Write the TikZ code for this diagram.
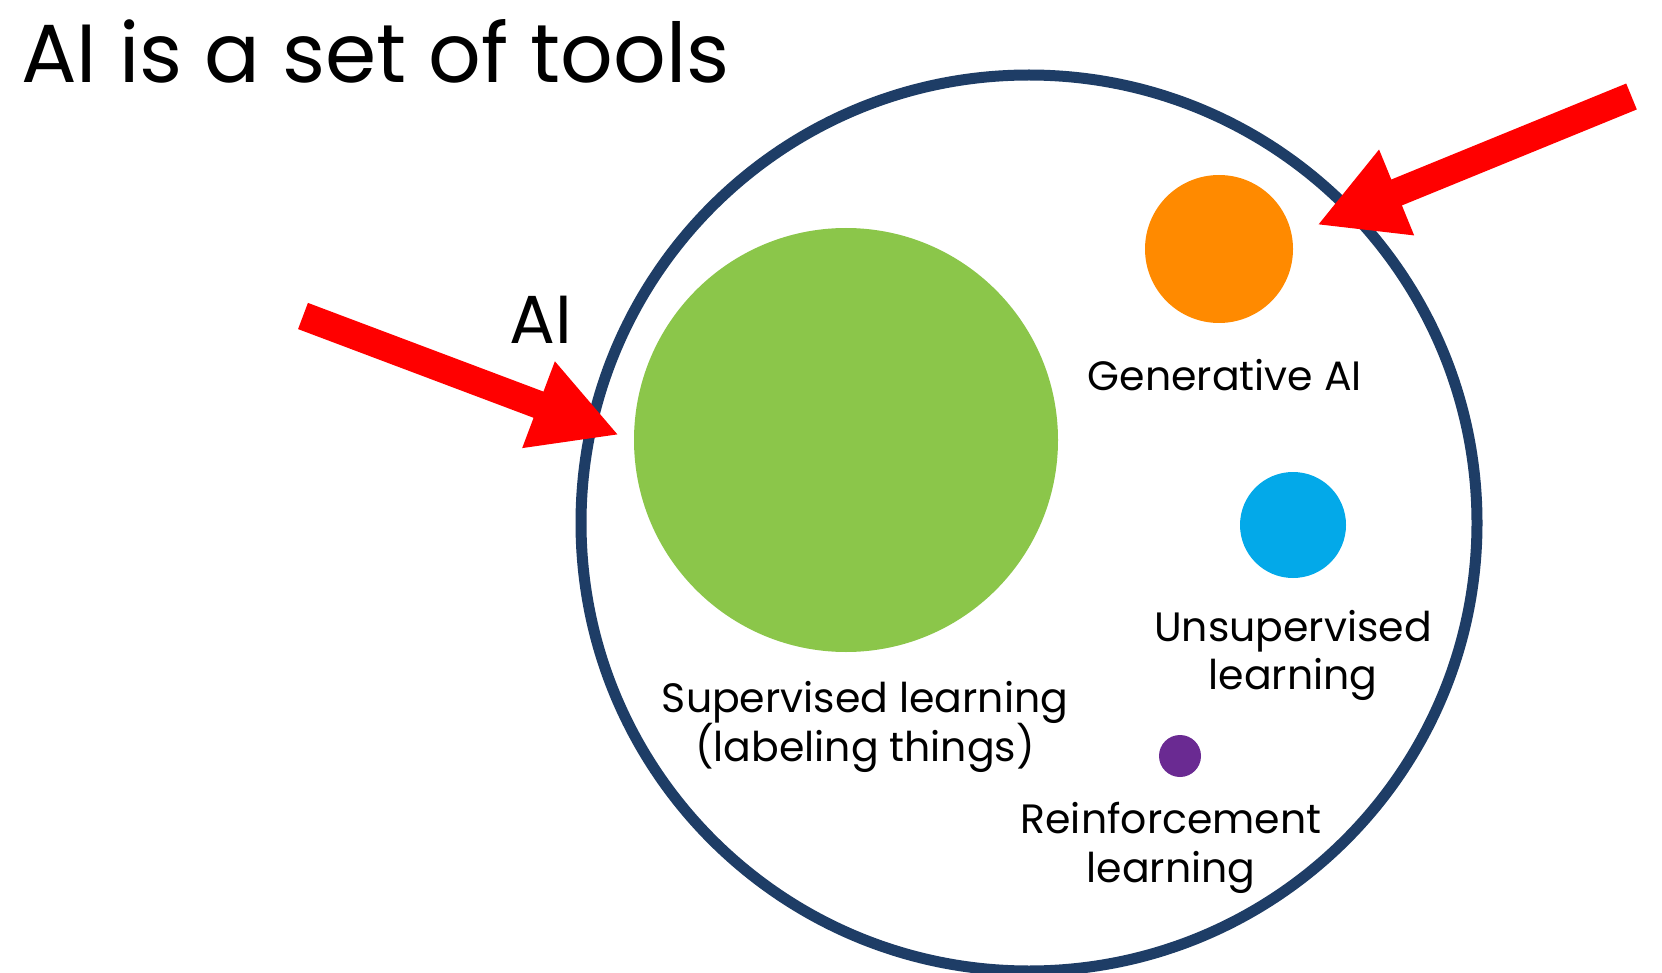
\documentclass[tikz,border=0pt]{standalone}
\usepackage{fontspec}
\setmainfont{Poppins}
\usetikzlibrary{arrows.meta}
\definecolor{navy}{HTML}{1E3D66}
\definecolor{sgreen}{HTML}{8BC64A}
\definecolor{sorange}{HTML}{FF8A00}
\definecolor{sblue}{HTML}{03A9E9}
\definecolor{spurple}{HTML}{6A2A92}
\definecolor{sred}{HTML}{FF0000}
\tikzset{
  lbl/.style={anchor=base, inner sep=0pt, font=\fontsize{41}{49}\selectfont},
  dot/.style={circle, inner sep=0pt, minimum size=#1},
  bigarrow/.style={draw=sred, line width=28pt, -{Triangle[length=86pt,width=86pt]}}
}
\begin{document}
\begin{tikzpicture}[x=1pt,y=-1pt]
\useasboundingbox[fill=white] (0,0) rectangle (1662,973);
% title
\node[anchor=base west, inner sep=0pt, font=\fontsize{82.5}{98}\selectfont] (title) at (21,83) {AI is a set of tools};
% big AI circle
\node[dot=896pt, draw=navy, line width=11pt] (ai) at (1029,523) {};
\node[anchor=base, inner sep=0pt, font=\fontsize{68}{80}\selectfont] (ailbl) at (541,344) {AI};
% tools
\node[dot=424pt, fill=sgreen] (sup) at (846,440) {};
\node[dot=148pt, fill=sorange] (gen) at (1219,249) {};
\node[dot=106pt, fill=sblue] (uns) at (1293,525) {};
\node[dot=42pt, fill=spurple] (rei) at (1180,756) {};
% labels
\node[lbl] (genl) at (1225,390) {Generative AI};
\node[lbl] (sup1) at (865,712) {Supervised learning};
\node[lbl] (sup2) at (865,761) {(labeling things)};
\node[lbl] (uns1) at (1293,641) {Unsupervised};
\node[lbl] (uns2) at (1293,689) {learning};
\node[lbl] (rei1) at (1171,833) {Reinforcement};
\node[lbl] (rei2) at (1171,882) {learning};
% arrows
\coordinate (lt) at (303,316);
\coordinate (lp) at (619,435);
\coordinate (rt) at (1631.5,96.5);
\coordinate (rp) at (1317,225);
\draw[bigarrow] (lt) -- (lp);
\draw[bigarrow] (rt) -- (rp);
\end{tikzpicture}
\end{document}
